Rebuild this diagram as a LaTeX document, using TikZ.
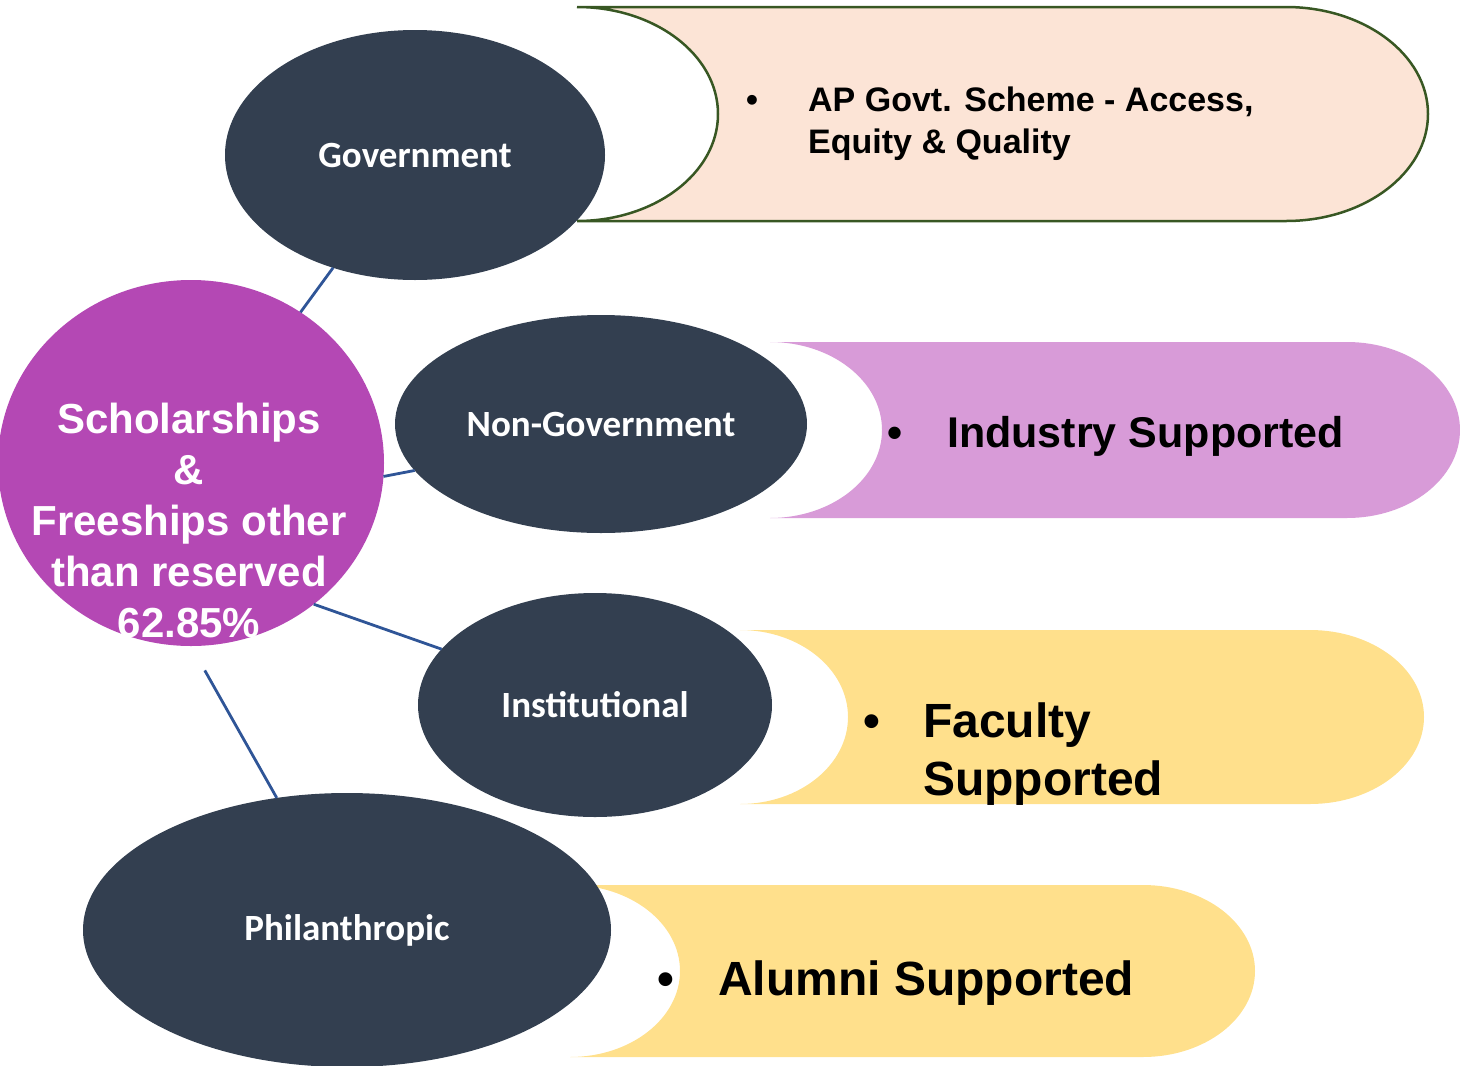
\documentclass[tikz,border=0pt]{standalone}
\usepackage{fontspec}
\setmainfont{Liberation Sans}
\newfontfamily\ovalfont{Carlito}
\usetikzlibrary{shapes.geometric}

\definecolor{slate}{HTML}{333F50}
\definecolor{plum}{RGB}{180,72,180}
\definecolor{peach}{HTML}{FCE4D6}
\definecolor{leaf}{HTML}{385723}
\definecolor{orchid}{HTML}{D89BD8}
\definecolor{gold}{RGB}{255,224,140}
\definecolor{wire}{HTML}{2F5597}

\begin{document}
\begin{tikzpicture}[x=1pt, y=-1pt,
  oval/.style={ellipse, fill=slate, inner sep=0pt, outer sep=0pt, text=white,
    font=\ovalfont\bfseries\fontsize{37}{44}\selectfont},
  link/.style={wire, line width=2.8pt},
  item/.style={anchor=base west, inner sep=0pt}]
  \useasboundingbox (0,0) rectangle (1460,1066);

  % Bars behind the ovals
  \filldraw[fill=peach, draw=leaf, line width=2.5pt]
    (577,7) -- (1286,7) arc[start angle=-90, end angle=90, x radius=142, y radius=107]
    -- (577,221) arc[start angle=90, end angle=-90, x radius=141, y radius=107] -- cycle;
  \fill[orchid]
    (770,342) -- (1347,342) arc[start angle=-90, end angle=90, x radius=113, y radius=88]
    -- (770,518) arc[start angle=90, end angle=-90, x radius=112, y radius=88] -- cycle;
  \fill[gold]
    (740,630) -- (1310,630) arc[start angle=-90, end angle=90, x radius=114, y radius=87]
    -- (740,804) arc[start angle=90, end angle=-90, x radius=108, y radius=87] -- cycle;
  \fill[gold]
    (570,885) -- (1143,885) arc[start angle=-90, end angle=90, x radius=112, y radius=86]
    -- (570,1057) arc[start angle=90, end angle=-90, x radius=110, y radius=86] -- cycle;

  % Centre circle and ovals
  \node[oval, fill=plum, minimum width=386pt, minimum height=366pt] (sch) at (191,463) {};
  \node[text=white, font=\bfseries\fontsize{42}{51}\selectfont, align=center, inner sep=0pt]
    (schtext) at (189,520) {Scholarships\\\&\\Freeships other\\than reserved\\62.85\%};
  \node[oval, minimum width=380pt, minimum height=250pt] (gov) at (415,155) {Government};
  \node[oval, minimum width=412pt, minimum height=218pt] (ngov) at (601,424) {Non-Government};
  \node[oval, minimum width=354pt, minimum height=224pt] (inst) at (595,705) {Institutional};
  \node[oval, minimum width=528pt, minimum height=274pt] (phil) at (347,930) {Philanthropic};

  % Bullet texts
  \node[item, font=\bfseries\fontsize{34}{42}\selectfont] (ap1) at (746,111)
    {\makebox[62pt][l]{•}AP Govt. Scheme - Access,};
  \node[item, font=\bfseries\fontsize{34}{42}\selectfont] (ap2) at (808,153) {Equity \& Quality};
  \node[item, font=\bfseries\fontsize{43}{52}\selectfont] (ind) at (887,447)
    {\makebox[60pt][l]{•}Industry Supported};
  \node[item, font=\bfseries\fontsize{48}{57}\selectfont] (fac1) at (863,737)
    {\makebox[60pt][l]{•}Faculty};
  \node[item, font=\bfseries\fontsize{48}{57}\selectfont] (fac2) at (923,795) {Supported};
  \node[item, font=\bfseries\fontsize{48}{57}\selectfont] (alu) at (657,995)
    {\makebox[61pt][l]{•}Alumni Supported};

  % Connectors
  \draw[link] (sch.54) -- (gov.-126);
  \draw[link] (sch.-4) -- (ngov.194);
  \draw[link] (sch.-49) -- (inst.160);
  \draw[link, shorten <=28pt] (sch.south) -- (phil.118);
\end{tikzpicture}
\end{document}
